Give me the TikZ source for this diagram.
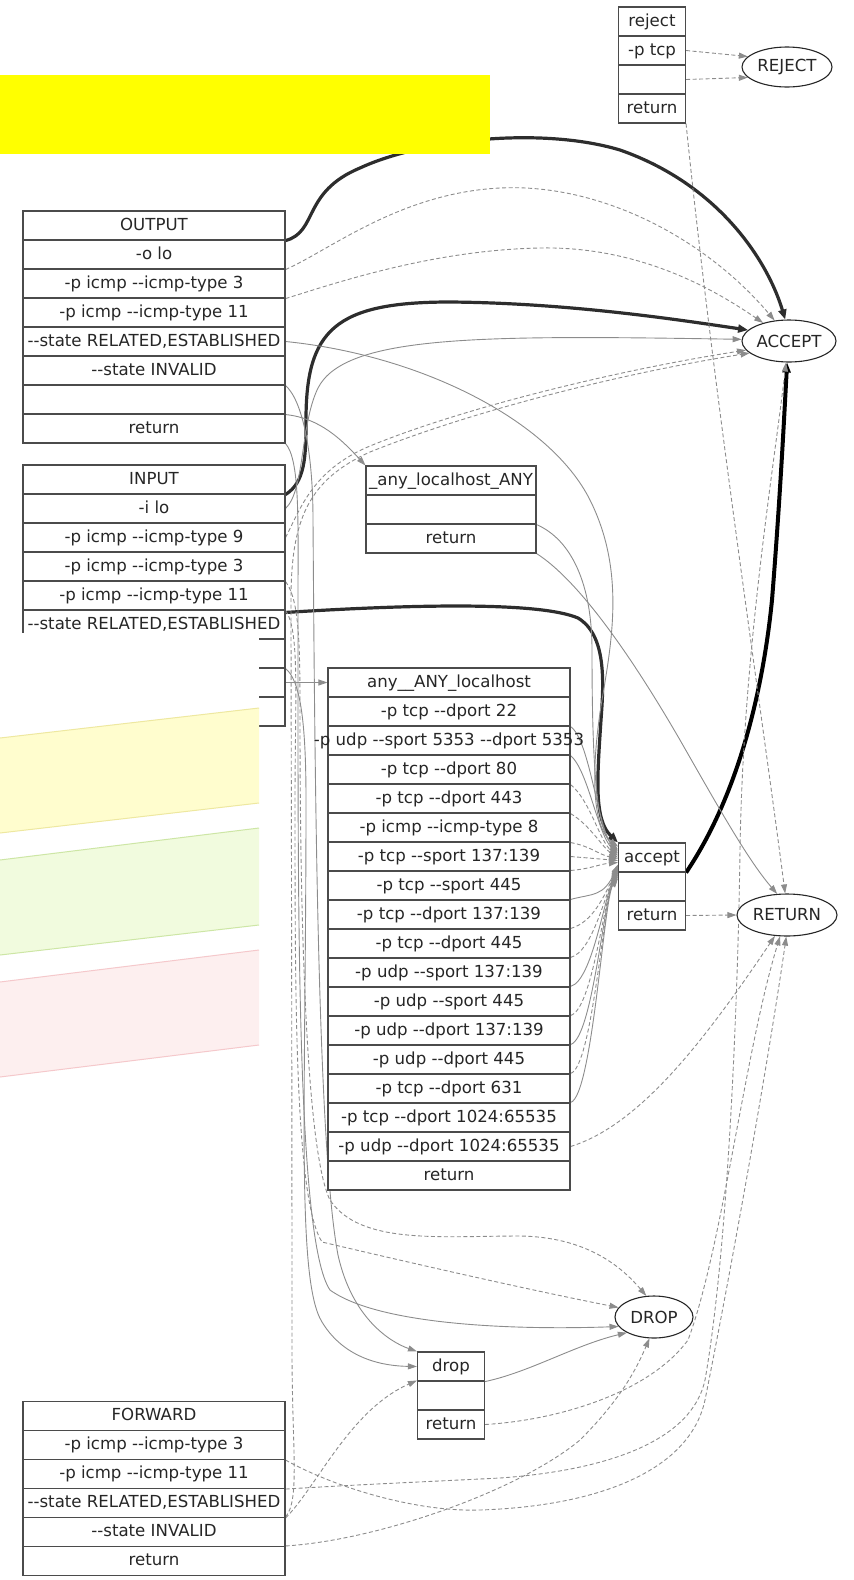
\documentclass[tikz,border=0pt]{standalone}
\usepackage{fontspec}
\newfontfamily\lbl{DejaVu Sans}
\usetikzlibrary{arrows.meta,shapes.geometric,calc}
\newcommand\ddash{-{}-}
\definecolor{cellc}{RGB}{75,75,75}
\definecolor{edgec}{RGB}{140,140,140}
\definecolor{thickc}{RGB}{45,45,45}
\definecolor{pureyellow}{RGB}{255,255,0}
\definecolor{bandY}{RGB}{255,253,206}
\definecolor{bandYl}{RGB}{238,232,160}
\definecolor{bandG}{RGB}{241,251,222}
\definecolor{bandGl}{RGB}{205,230,165}
\definecolor{bandP}{RGB}{253,239,239}
\definecolor{bandPl}{RGB}{245,200,203}
\pgfdeclarelayer{edges}
\pgfdeclarelayer{over}
\pgfsetlayers{edges,main,over}
\begin{document}
\begin{tikzpicture}[x=1pt,y=-1pt,
  lab/.style={font=\lbl\fontsize{16.6}{20}\selectfont, text=black!85},
  cell/.style={lab, draw=cellc, line width=1.1pt, fill=white, inner sep=0pt, minimum height=29pt, text height=12.5pt, text depth=3.5pt},
  wcell/.style={cell, minimum width=262pt},
  acell/.style={cell, minimum width=242pt},
  lcell/.style={cell, minimum width=170pt},
  scell/.style={cell, minimum width=67pt},
  ell/.style={lab, ellipse, draw=black!85, line width=1.1pt, fill=white, inner sep=0pt},
  ed/.style={draw=edgec, line width=0.9pt, -{Triangle[length=9pt,width=6pt]}},
  dsh/.style={ed, dash pattern=on 4pt off 2.5pt},
  thk/.style={draw=thickc, line width=3.2pt, -{Triangle[length=10pt,width=8pt]}}
]
\useasboundingbox (0,0) rectangle (854,1580);

% ---------- reject chain ----------
\node[scell] (rj0) at (652,21.5) {reject};
\node[scell] (rj1) at (652,50.5) {-p tcp};
\node[scell] (rj2) at (652,79.5) {};
\node[scell] (rj3) at (652,108.5) {return};
\node[ell, minimum width=90pt, minimum height=40pt] (REJECT) at (787,67) {REJECT};

% ---------- OUTPUT ----------
\node[wcell] (o0) at (154,225.5) {OUTPUT};
\node[wcell] (o1) at (154,254.5) {-o lo};
\node[wcell] (o2) at (154,283.5) {-p icmp \ddash icmp-type 3};
\node[wcell] (o3) at (154,312.5) {-p icmp \ddash icmp-type 11};
\node[wcell] (o4) at (154,341.5) {\ddash state RELATED,ESTABLISHED};
\node[wcell] (o5) at (154,370.5) {\ddash state INVALID};
\node[wcell] (o6) at (154,399.5) {};
\node[wcell] (o7) at (154,428.5) {return};

% ---------- INPUT ----------
\node[wcell] (i0) at (154,479.5) {INPUT};
\node[wcell] (i1) at (154,508.5) {-i lo};
\node[wcell] (i2) at (154,537.5) {-p icmp \ddash icmp-type 9};
\node[wcell] (i3) at (154,566.5) {-p icmp \ddash icmp-type 3};
\node[wcell] (i4) at (154,595.5) {-p icmp \ddash icmp-type 11};
\node[wcell] (i5) at (154,624.5) {\ddash state RELATED,ESTABLISHED};
\node[wcell] (i6) at (154,653.5) {};
\node[wcell] (i7) at (154,682.5) {};
\node[wcell] (i8) at (154,711.5) {};

% ---------- _any_localhost_ANY ----------
\node[lcell] (la0) at (451,480.5) {\_any\_localhost\_ANY};
\node[lcell] (la1) at (451,509.5) {};
\node[lcell] (la2) at (451,538.5) {return};

% ---------- any__ANY_localhost ----------
\node[acell] (a0) at (449,682.5) {any\_\_ANY\_localhost};
\node[acell] (a1) at (449,711.5) {-p tcp \ddash dport 22};
\node[acell] (a2) at (449,740.5) {};
\node[lab] (a2t) at (449,740.5) {-p udp \ddash sport 5353 \ddash dport 5353};
\node[acell] (a3) at (449,769.5) {-p tcp \ddash dport 80};
\node[acell] (a4) at (449,798.5) {-p tcp \ddash dport 443};
\node[acell] (a5) at (449,827.5) {-p icmp \ddash icmp-type 8};
\node[acell] (a6) at (449,856.5) {-p tcp \ddash sport 137:139};
\node[acell] (a7) at (449,885.5) {-p tcp \ddash sport 445};
\node[acell] (a8) at (449,914.5) {-p tcp \ddash dport 137:139};
\node[acell] (a9) at (449,943.5) {-p tcp \ddash dport 445};
\node[acell] (a10) at (449,972.5) {-p udp \ddash sport 137:139};
\node[acell] (a11) at (449,1001.5) {-p udp \ddash sport 445};
\node[acell] (a12) at (449,1030.5) {-p udp \ddash dport 137:139};
\node[acell] (a13) at (449,1059.5) {-p udp \ddash dport 445};
\node[acell] (a14) at (449,1088.5) {-p tcp \ddash dport 631};
\node[acell] (a15) at (449,1117.5) {-p tcp \ddash dport 1024:65535};
\node[acell] (a16) at (449,1146.5) {-p udp \ddash dport 1024:65535};
\node[acell] (a17) at (449,1175.5) {return};

% ---------- accept ----------
\node[scell] (ac0) at (652,857.5) {accept};
\node[scell] (ac1) at (652,886.5) {};
\node[scell] (ac2) at (652,915.5) {return};

% ---------- targets ----------
\node[ell, minimum width=94pt, minimum height=42pt] (ACCEPT) at (789,341) {ACCEPT};
\node[ell, minimum width=100pt, minimum height=42pt] (RETURN) at (787,915) {RETURN};
\node[ell, minimum width=78pt, minimum height=42pt] (DROP) at (654,1317) {DROP};

% ---------- drop ----------
\node[scell] (dr0) at (451,1366.5) {drop};
\node[scell] (dr1) at (451,1395.5) {};
\node[scell] (dr2) at (451,1424.5) {return};

% ---------- FORWARD ----------
\node[wcell] (f0) at (154,1416) {FORWARD};
\node[wcell] (f1) at (154,1445) {-p icmp \ddash icmp-type 3};
\node[wcell] (f2) at (154,1474) {-p icmp \ddash icmp-type 11};
\node[wcell] (f3) at (154,1503) {\ddash state RELATED,ESTABLISHED};
\node[wcell] (f4) at (154,1532) {\ddash state INVALID};
\node[wcell] (f5) at (154,1561) {return};

% ================= edges =================
\begin{pgfonlayer}{edges}
% thick
\draw[thk] (o0.south east) .. controls (318,232) and (302,192) .. (360,168) .. controls (420,140) and (540,126) .. (620,150) .. controls (720,185) and (768,262) .. (ACCEPT.100);
\draw[thk] (i0.south east) .. controls (305,482) and (306,458) .. (306,420) .. controls (306,330) and (335,302) .. (450,302) .. controls (570,303) and (680,320) .. (ACCEPT.165);
\draw[thk] ($(i5.north east)+(0,3)$) .. controls (420,604) and (540,602) .. (578,618) .. controls (606,635) and (604,680) .. (601,720) .. controls (597,780) and (594,820) .. (ac0.north west);
\draw[thk, draw=black, line width=4pt] (ac0.south east) .. controls (735,800) and (762,700) .. (772,600) .. controls (780,500) and (784,420) .. (ACCEPT.265);

% OUTPUT
\draw[dsh] (o1.south east) .. controls (330,250) and (400,193) .. (500,188) .. controls (600,183) and (705,238) .. (ACCEPT.125);
\draw[dsh] (o2.south east) .. controls (330,285) and (430,250) .. (540,248) .. controls (640,246) and (715,290) .. (ACCEPT.145);
\draw[ed] (o4.east) .. controls (420,355) and (550,420) .. (590,500) .. controls (625,570) and (612,640) .. (602,700) .. controls (592,760) and (590,825) .. ($(ac0.west)+(0,-11)$);
\draw[ed] (o5.south east) .. controls (302,400) and (313,450) .. (313,520) .. controls (315,800) and (318,1150) .. (338,1255) .. controls (352,1318) and (390,1342) .. (dr0.north west);
\draw[ed] (o6.south east) .. controls (320,418) and (342,440) .. (la0.north west);
\draw[ed] (o7.south east) .. controls (300,460) and (298,520) .. (298,600) .. controls (298,900) and (296,1240) .. (330,1290) .. controls (380,1326) and (520,1330) .. (DROP.195);

% INPUT
\draw[ed] (i1.east) .. controls (305,490) and (300,425) .. (318,388) .. controls (345,335) and (480,335) .. (ACCEPT.178);
\draw[dsh] (i2.east) .. controls (300,510) and (312,470) .. (370,446) .. controls (470,405) and (630,368) .. (ACCEPT.192);
\draw[dsh] (i3.south east) .. controls (300,600) and (300,650) .. (300,720) .. controls (300,900) and (305,1150) .. (330,1200) .. controls (360,1245) and (440,1236) .. (520,1236) .. controls (585,1237) and (620,1265) .. (DROP.110);
\draw[dsh] (i4.south east) .. controls (300,630) and (295,700) .. (295,800) .. controls (295,1000) and (295,1200) .. (322,1242) .. controls (420,1265) and (530,1290) .. (DROP.165);
\draw[ed] (i6.south east) .. controls (300,680) and (306,720) .. (306,800) .. controls (306,1100) and (296,1280) .. (322,1322) .. controls (345,1360) and (385,1366) .. (dr0.west);
\draw[ed] (i7.east) -- (a0.west);

% reject
\draw[dsh] (rj1.east) -- (REJECT.165);
\draw[dsh] (rj2.east) -- (REJECT.195);
\draw[dsh] (rj3.south east) .. controls (712,380) and (760,700) .. (RETURN.95);

% _any_localhost_ANY
\draw[ed] (la1.south east) .. controls (572,540) and (592,585) .. (592,650) .. controls (592,760) and (596,830) .. ($(ac0.west)+(0,-8)$);
\draw[ed] (la2.south east) .. controls (575,578) and (625,645) .. (680,740) .. controls (720,810) and (748,860) .. (RETURN.115);

% any__ANY_localhost -> accept
\draw[ed] (a1.south east) .. controls (590,740) and (598,830) .. ($(ac0.west)+(0,-6)$);
\draw[ed] (a2.south east) .. controls (588,770) and (598,835) .. ($(ac0.west)+(0,-4)$);
\draw[dsh] (a3.south east) .. controls (590,800) and (600,842) .. ($(ac0.west)+(0,-2)$);
\draw[dsh] (a4.south east) .. controls (590,825) and (603,848) .. (ac0.west);
\draw[dsh] (a5.south east) .. controls (590,846) and (600,855) .. ($(ac0.west)+(0,1)$);
\draw[dsh] (a6.east) -- ($(ac0.west)+(0,3)$);
\draw[dsh] (a7.north east) .. controls (590,869) and (600,864) .. ($(ac0.west)+(0,5)$);
\draw[ed] (a8.north east) .. controls ($(a8.north east)+(22,-6)$) and (604,897) .. ($(ac0.west)+(0,7)$);
\draw[dsh] (a9.north east) .. controls ($(a9.north east)+(22,-6)$) and (604,897) .. ($(ac0.west)+(0,9)$);
\draw[dsh] (a10.north east) .. controls ($(a10.north east)+(22,-6)$) and (604,897) .. ($(ac0.west)+(0,11)$);
\draw[ed] (a11.north east) .. controls ($(a11.north east)+(22,-6)$) and (604,897) .. ($(ac0.west)+(0,13)$);
\draw[dsh] (a12.north east) .. controls ($(a12.north east)+(22,-6)$) and (604,897) .. ($(ac0.west)+(0,15)$);
\draw[ed] (a13.north east) .. controls ($(a13.north east)+(22,-6)$) and (604,897) .. ($(ac0.west)+(0,17)$);
\draw[dsh] (a14.north east) .. controls ($(a14.north east)+(22,-6)$) and (604,897) .. ($(ac0.west)+(0,19)$);
\draw[ed] (a15.north east) .. controls ($(a15.north east)+(22,-6)$) and (604,897) .. ($(ac0.west)+(0,21)$);
\draw[dsh] (a16.east) .. controls (640,1125) and (705,1040) .. (RETURN.240);

% accept / drop
\draw[dsh] (ac2.east) -- (RETURN.west);
\draw[ed] (dr0.south east) .. controls (530,1372) and (575,1345) .. (DROP.210);
\draw[dsh] (dr2.east) .. controls (560,1420) and (650,1392) .. (688,1340) .. controls (722,1250) and (745,1050) .. (RETURN.252);

% FORWARD
\draw[dsh] (f1.south east) .. controls (340,1490) and (420,1512) .. (480,1510) .. controls (600,1506) and (690,1470) .. (705,1400) .. controls (735,1250) and (770,1050) .. (RETURN.268);
\draw[dsh] (f2.south east) .. controls (350,1485) and (420,1482) .. (500,1478) .. controls (610,1470) and (692,1440) .. (705,1380) .. controls (728,1250) and (738,1000) .. (740,850) .. controls (743,650) and (775,460) .. (ACCEPT.262);
\draw[dsh] (f3.south east) .. controls (318,1485) and (350,1410) .. (dr1.north west);
\draw[dsh] (f4.north east) .. controls (300,1500) and (292,1450) .. (292,1350) .. controls (292,1000) and (291,700) .. (291,600) .. controls (291,520) and (308,480) .. (370,452) .. controls (480,408) and (630,372) .. (ACCEPT.197);
\draw[dsh] (f5.north east) .. controls (380,1540) and (520,1490) .. (580,1440) .. controls (620,1400) and (636,1370) .. (DROP.258);
\end{pgfonlayer}

% ================= overlays =================
\begin{pgfonlayer}{over}
\fill[white] (0,633) rectangle (259,1090);
\fill[bandY] (0,738) -- (259,708) -- (259,803) -- (0,833) -- cycle;
\draw[bandYl, line width=1pt] (0,738) -- (259,708) (0,833) -- (259,803);
\fill[bandG] (0,860) -- (259,828) -- (259,925) -- (0,955) -- cycle;
\draw[bandGl, line width=1pt] (0,860) -- (259,828) (0,955) -- (259,925);
\fill[bandP] (0,982) -- (259,950) -- (259,1045) -- (0,1077) -- cycle;
\draw[bandPl, line width=1pt] (0,982) -- (259,950) (0,1077) -- (259,1045);
\fill[pureyellow] (0,75) rectangle (490,154);
\end{pgfonlayer}
\end{tikzpicture}
\end{document}
